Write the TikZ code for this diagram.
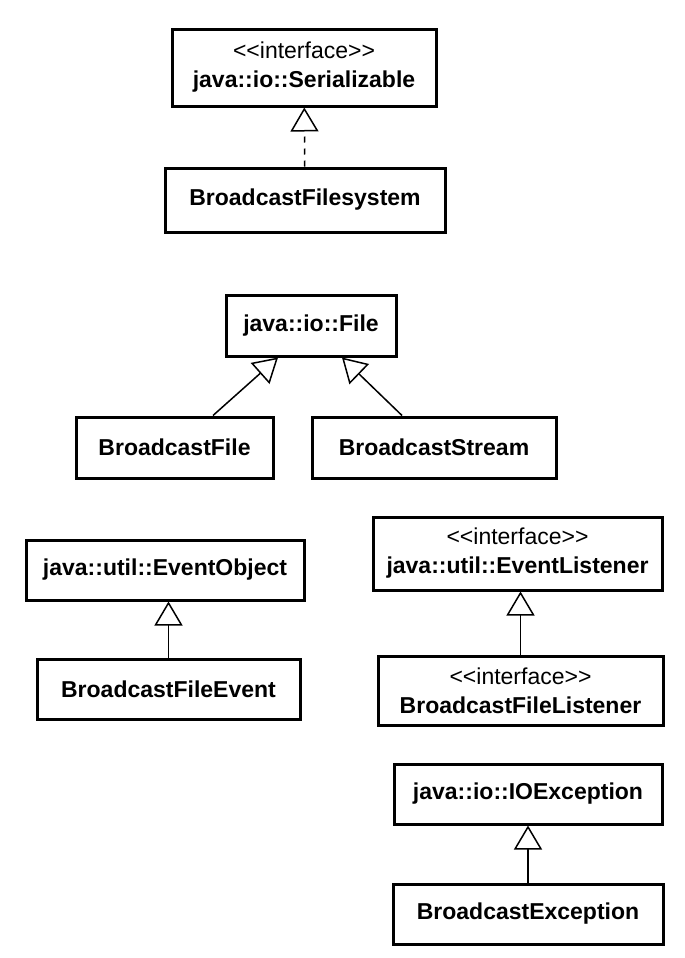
\documentclass[tikz,border=0pt]{standalone}
\usepackage{fontspec}
\setmainfont{Liberation Sans}
\usetikzlibrary{arrows.meta}

\begin{document}
\begin{tikzpicture}[
    x=0.5pt, y=-0.5pt,
    class box/.style={draw, line width=1.5pt, align=center, inner sep=0pt, font=\fontsize{11.5}{14.5}\selectfont\bfseries},
    generalization/.style={-{Triangle[open, length=12pt, width=14pt, line width=0.75pt]}, line width=0.75pt},
    realization/.style={generalization, dash pattern=on 3pt off 3pt}
    ]

    \useasboundingbox (0,0) rectangle (685,958);

    % serializable
    \node[class box, minimum width=132pt, minimum height=38.5pt] (serializable) at (304,67.5)
        {{\mdseries <{}<interface>{}>}\\java::io::Serializable};
    \node[class box, minimum width=140pt, minimum height=32pt] (filesystem) at (305,200) {BroadcastFilesystem};

    % file
    \node[class box, minimum width=85pt, minimum height=30.5pt] (file) at (311,325.5) {java::io::File};
    \node[class box, minimum width=98.5pt, minimum height=30.5pt] (bfile) at (174.5,447.5) {BroadcastFile};
    \node[class box, minimum width=122pt, minimum height=30.5pt] (bstream) at (434,447.5) {BroadcastStream};

    % events
    \node[class box, minimum width=139pt, minimum height=30pt] (eventobject) at (165,570) {java::util::EventObject};
    \node[class box, minimum width=131.5pt, minimum height=30pt] (fileevent) at (168.5,689) {BroadcastFileEvent};
    \node[class box, minimum width=144.5pt, minimum height=36.5pt] (eventlistener) at (517.5,553.5)
        {{\mdseries <{}<interface>{}>}\\java::util::EventListener};
    \node[class box, minimum width=142.5pt, minimum height=34.5pt] (filelistener) at (520.5,690.5)
        {{\mdseries <{}<interface>{}>}\\BroadcastFileListener};

    % exceptions
    \node[class box, minimum width=134pt, minimum height=30pt] (ioexception) at (528,794) {java::io::IOException};
    \node[class box, minimum width=135pt, minimum height=30pt] (broadcastexception) at (528,914) {BroadcastException};

    \draw[realization] (filesystem) -- (serializable);
    \draw[generalization] ([xshift=19.25pt]bfile.north) -- ([xshift=-16.5pt]file.south);
    \draw[generalization] ([xshift=-16pt]bstream.north) -- ([xshift=15.5pt]file.south);
    \draw[generalization] (fileevent.north) -- (fileevent.north |- eventobject.south);
    \draw[generalization] (filelistener.north) -- (filelistener.north |- eventlistener.south);
    \draw[generalization] (broadcastexception) -- (ioexception);
\end{tikzpicture}
\end{document}
